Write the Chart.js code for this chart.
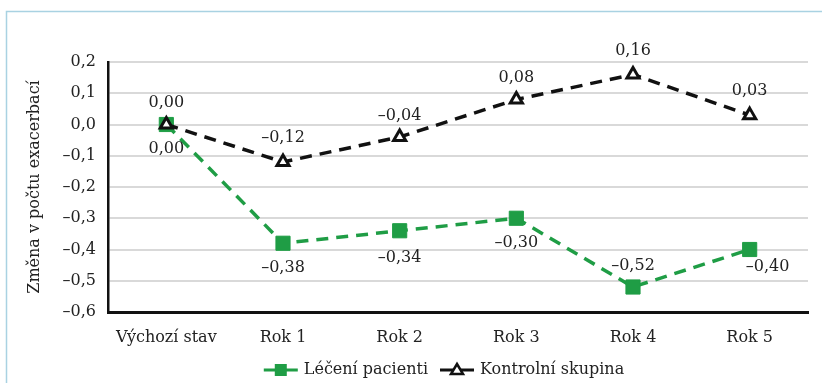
<!DOCTYPE html>
<html lang="cs">
<head>
<meta charset="utf-8">
<title>Změna v počtu exacerbací</title>
<script src="https://cdn.jsdelivr.net/npm/chart.js@4/dist/chart.umd.min.js"></script>
<style>
  html, body { margin: 0; padding: 0; background: #ffffff; }
  #wrap { position: relative; width: 822px; height: 383px; }
  canvas { display: block; }
</style>
</head>
<body>
<div id="wrap"><canvas id="chart" width="822" height="383"></canvas></div>
<script>
// Categories and series
const categories = ['Výchozí stav', 'Rok 1', 'Rok 2', 'Rok 3', 'Rok 4', 'Rok 5'];
const treatedValues = [0.00, -0.38, -0.34, -0.30, -0.52, -0.40];
const controlValues = [0.00, -0.12, -0.04, 0.08, 0.16, 0.03];
const seriesNames = ['Léčení pacienti', 'Kontrolní skupina'];
const yTicks = [-0.6, -0.5, -0.4, -0.3, -0.2, -0.1, 0.0, 0.1, 0.2];

// Visual settings
const FONT = '"DejaVu Serif", "Liberation Serif", serif';
const FONT_SIZE = 16;
const GREEN = '#1f9d45';
const BLACK = '#111111';
const TEXT = '#222222';

// Label placement per point: [dx, dy] from the marker centre
const treatedLabelOffsets = [[0, 24], [0, 25], [0, 27], [0, 25], [0, -21], [18, 17]];
const controlLabelOffsets = [[0, -22], [0, -24], [0, -21], [0, -22], [0, -24], [0, -24]];

function fmt(v, digits) {
  const s = Math.abs(v).toFixed(digits).replace('.', ',');
  return (v < -1e-9 ? '\u2013' : '') + s;
}

const framePlugin = {
  id: 'frame',
  beforeDraw(chart) {
    const ctx = chart.ctx;
    ctx.save();
    ctx.fillStyle = '#ffffff';
    ctx.fillRect(0, 0, chart.width, chart.height);
    ctx.strokeStyle = '#a9d2e2';
    ctx.lineWidth = 1.5;
    ctx.beginPath();
    ctx.moveTo(6.5, chart.height);
    ctx.lineTo(6.5, 11.5);
    ctx.lineTo(chart.width, 11.5);
    ctx.stroke();
    ctx.restore();
  }
};

const valueLabelPlugin = {
  id: 'valueLabels',
  afterDatasetsDraw(chart) {
    const ctx = chart.ctx;
    const offsets = [treatedLabelOffsets, controlLabelOffsets];
    ctx.save();
    ctx.font = FONT_SIZE + 'px ' + FONT;
    ctx.fillStyle = TEXT;
    ctx.textAlign = 'center';
    ctx.textBaseline = 'middle';
    chart.data.datasets.forEach((ds, di) => {
      const meta = chart.getDatasetMeta(di);
      meta.data.forEach((pt, i) => {
        const [dx, dy] = offsets[di][i];
        ctx.fillText(fmt(ds.data[i], 2), pt.x + dx, pt.y + dy);
      });
    });
    ctx.restore();
  }
};

const legendPlugin = {
  id: 'bottomLegend',
  afterDraw(chart) {
    const ctx = chart.ctx;
    ctx.save();
    ctx.font = FONT_SIZE + 'px ' + FONT;
    const lineLen = 34, gapText = 6, gapItem = 12;
    const widths = seriesNames.map(n => ctx.measureText(n).width);
    const total = widths.reduce((a, w) => a + lineLen + gapText + w, 0) + gapItem;
    let x = 444 - total / 2;
    const y = 370;
    chart.data.datasets.forEach((ds, i) => {
      ctx.setLineDash([]);
      ctx.strokeStyle = ds.borderColor;
      ctx.lineWidth = 3;
      ctx.beginPath();
      ctx.moveTo(x, y);
      ctx.lineTo(x + lineLen, y);
      ctx.stroke();
      const cx = x + lineLen / 2;
      if (i === 0) {
        ctx.fillStyle = ds.pointBackgroundColor;
        ctx.fillRect(cx - 6, y - 6, 12, 12);
      } else {
        ctx.fillStyle = '#ffffff';
        ctx.strokeStyle = ds.pointBorderColor;
        ctx.lineWidth = 2.5;
        ctx.beginPath();
        ctx.moveTo(cx, y - 6);
        ctx.lineTo(cx + 6, y + 4);
        ctx.lineTo(cx - 6, y + 4);
        ctx.closePath();
        ctx.fill();
        ctx.stroke();
      }
      ctx.fillStyle = TEXT;
      ctx.textAlign = 'left';
      ctx.textBaseline = 'middle';
      ctx.fillText(seriesNames[i], x + lineLen + gapText, y);
      x += lineLen + gapText + widths[i] + gapItem;
    });
    ctx.restore();
  }
};

new Chart(document.getElementById('chart'), {
  type: 'line',
  data: {
    labels: categories,
    datasets: [
      {
        label: seriesNames[0],
        data: treatedValues,
        borderColor: GREEN,
        backgroundColor: GREEN,
        borderWidth: 3.5,
        borderDash: [12, 8],
        pointStyle: 'rect',
        pointRadius: 10,
        pointBackgroundColor: GREEN,
        pointBorderColor: GREEN,
        pointBorderWidth: 1,
        tension: 0,
        order: 2
      },
      {
        label: seriesNames[1],
        data: controlValues,
        borderColor: BLACK,
        backgroundColor: BLACK,
        borderWidth: 3.5,
        borderDash: [12, 8],
        pointStyle: 'triangle',
        pointRadius: 7,
        pointBackgroundColor: '#ffffff',
        pointBorderColor: BLACK,
        pointBorderWidth: 3,
        tension: 0,
        order: 1
      }
    ]
  },
  options: {
    responsive: false,
    animation: false,
    devicePixelRatio: 1,
    layout: { padding: { left: 0, right: 14, top: 62, bottom: 31 } },
    plugins: {
      legend: { display: false },
      tooltip: { enabled: false }
    },
    scales: {
      x: {
        type: 'category',
        offset: true,
        grid: { display: false, drawTicks: false },
        border: { display: true, color: '#111111', width: 3 },
        ticks: {
          color: TEXT,
          font: { family: FONT, size: FONT_SIZE },
          padding: 16,
          maxRotation: 0,
          autoSkip: false
        },
        afterFit(scale) { scale.height = 40; }
      },
      y: {
        min: -0.6,
        max: 0.2,
        afterBuildTicks(scale) { scale.ticks = yTicks.map(v => ({ value: v })); },
        grid: {
          color: (c) => (c.tick && Math.abs(c.tick.value + 0.6) < 1e-6) ? 'rgba(0,0,0,0)' : '#d9d9d9',
          lineWidth: 2,
          drawTicks: false
        },
        border: { display: true, color: '#111111', width: 2.5 },
        ticks: {
          color: TEXT,
          font: { family: FONT, size: FONT_SIZE },
          padding: 12,
          callback: (v) => fmt(v, 1)
        },
        title: {
          display: true,
          text: 'Změna v počtu exacerbací',
          color: TEXT,
          font: { family: FONT, size: FONT_SIZE },
          padding: { top: 25, bottom: 0 }
        },
        afterFit(scale) { scale.width = 108; }
      }
    }
  },
  plugins: [framePlugin, valueLabelPlugin, legendPlugin]
});
</script>
</body>
</html>
